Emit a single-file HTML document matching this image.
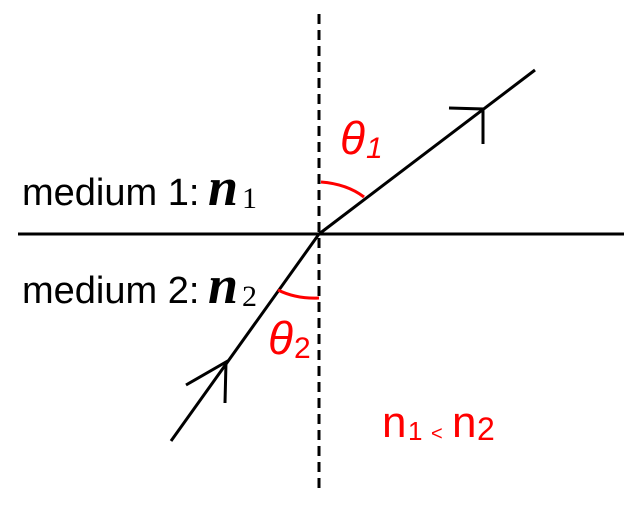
<!DOCTYPE html>
<html><head><style>
html,body{margin:0;padding:0;background:#fff;}
</style></head><body>
<svg width="636" height="502" viewBox="0 0 636 502" xmlns="http://www.w3.org/2000/svg">
<line x1="18" y1="234" x2="624" y2="234" stroke="#000" stroke-width="3"/>
<line x1="319" y1="14" x2="319" y2="494" stroke="#000" stroke-width="3" stroke-dasharray="10,6"/>
<line x1="319" y1="234" x2="535" y2="70" stroke="#000" stroke-width="3"/>
<polyline points="449,108 483,109 483,144" fill="none" stroke="#000" stroke-width="3"/>
<line x1="171" y1="441" x2="319" y2="234" stroke="#000" stroke-width="3"/>
<polyline points="186,385 226,362 225,403" fill="none" stroke="#000" stroke-width="3"/>
<path d="M321,182 Q347,184 364,197" fill="none" stroke="#f00" stroke-width="3"/>
<path d="M278,290 Q296,299 319,298" fill="none" stroke="#f00" stroke-width="3"/>
<text x="22" y="205" font-family="Liberation Sans, sans-serif" font-size="38" fill="#000">medium 1:</text>
<text x="208" y="205" font-family="Liberation Serif, serif" font-size="54" font-style="italic" font-weight="bold" fill="#000">n</text>
<text x="242" y="208" font-family="Liberation Serif, serif" font-size="30" fill="#000">1</text>
<text x="22" y="303" font-family="Liberation Sans, sans-serif" font-size="38" fill="#000">medium 2:</text>
<text x="208" y="303" font-family="Liberation Serif, serif" font-size="54" font-style="italic" font-weight="bold" fill="#000">n</text>
<text x="242" y="306" font-family="Liberation Serif, serif" font-size="30" fill="#000">2</text>
<text x="340" y="154" font-family="Liberation Sans, sans-serif" font-size="46" font-style="italic" fill="#f00">θ</text>
<text x="366" y="158" font-family="Liberation Sans, sans-serif" font-size="30" font-style="italic" fill="#f00">1</text>
<text x="268" y="354" font-family="Liberation Sans, sans-serif" font-size="46" font-style="italic" fill="#f00">θ</text>
<text x="294" y="358" font-family="Liberation Sans, sans-serif" font-size="30" fill="#f00">2</text>
<text x="382" y="437" font-family="Liberation Sans, sans-serif" font-size="44" fill="#f00">n</text>
<text x="408" y="440" font-family="Liberation Sans, sans-serif" font-size="26" fill="#f00">1</text>
<text x="431" y="440" font-family="Liberation Sans, sans-serif" font-size="20" fill="#f00">&lt;</text>
<text x="452" y="437" font-family="Liberation Sans, sans-serif" font-size="44" fill="#f00">n</text>
<text x="477" y="440" font-family="Liberation Sans, sans-serif" font-size="32" fill="#f00">2</text>
</svg>
</body></html>
